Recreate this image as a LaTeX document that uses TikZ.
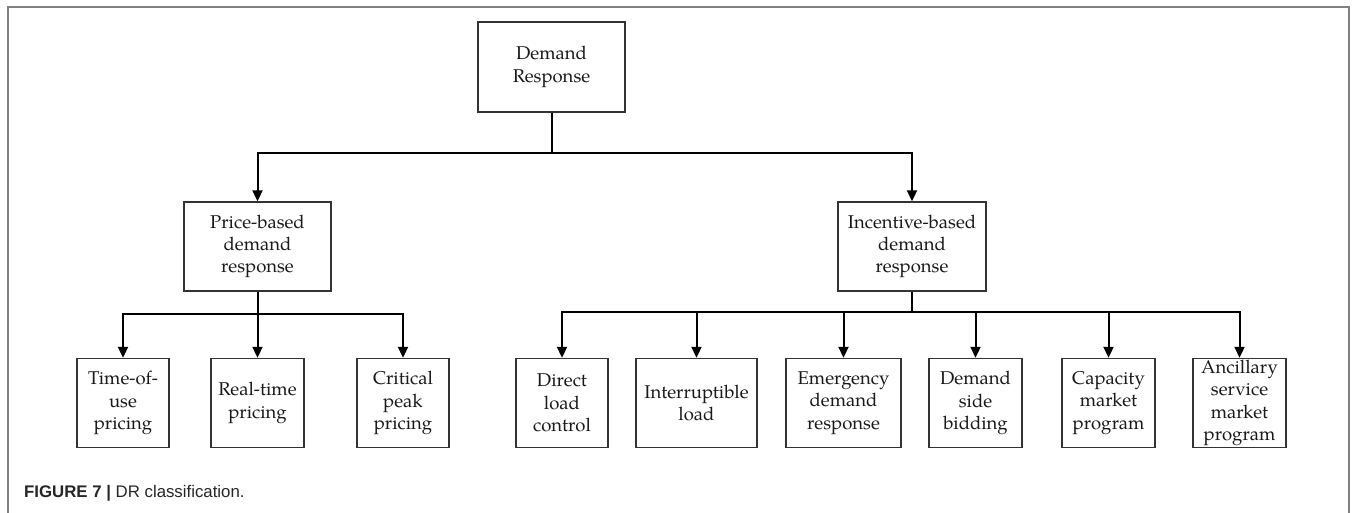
\documentclass[tikz,border=0pt]{standalone}
\usepackage{fontspec}
\setmainfont{TeX Gyre Pagella}
\newfontfamily\capfont{Liberation Sans}
\usetikzlibrary{arrows.meta}
\begin{document}
\begin{tikzpicture}[x=1pt,y=-1pt,
  box/.style={draw=black!80, line width=1.4pt, inner sep=0pt, align=center,
    font=\fontsize{18.5}{22.3}\selectfont, text=black!90, minimum height=89pt},
  conn/.style={line width=2pt, black},
  arr/.style={conn, -{Triangle[width=10pt,length=11pt]}},
  frame/.style={black!50, line width=1.5pt}
]
\useasboundingbox (0,0) rectangle (1356,513);
\draw[frame] (8,513) |- (1349,7) -- (1349,513);

\node[box, minimum width=147pt, minimum height=90pt] (dr) at (551.5,67) {Demand\\Response};
\node[box, minimum width=147pt] (pb) at (257.5,246.5) {Price-based\\demand\\response};
\node[box, minimum width=148pt] (ib) at (912,246.5) {Incentive-based\\demand\\response};

\node[box, minimum width=92pt] (tou) at (123,403) {Time-of-\\use\\pricing};
\node[box, minimum width=93pt] (rtp) at (257.5,403) {Real-time\\pricing};
\node[box, minimum width=92pt] (cpp) at (403,403) {Critical\\peak\\pricing};
\node[box, minimum width=92pt] (dlc) at (562,403) {Direct\\load\\control};
\node[box, minimum width=121pt] (il) at (696.5,403) {Interruptible\\load};
\node[box, minimum width=115pt] (edr) at (843.5,403) {Emergency\\demand\\response};
\node[box, minimum width=93pt] (dsb) at (975.5,403) {Demand\\side\\bidding};
\node[box, minimum width=93pt] (cmp) at (1108.5,403) {Capacity\\market\\program};
\node[box, minimum width=93pt] (asm) at (1239.5,403) {Ancillary\\service\\market\\program};

\draw[conn] (dr.south) -- ++(0,40) coordinate (j1);
\draw[arr] (j1) -| (pb.north);
\draw[arr] (j1) -| (ib.north);

\draw[conn] (pb.south) -- ++(0,22) coordinate (j2);
\draw[arr] (j2) -| (tou.north);
\draw[arr] (j2) -- (rtp.north);
\draw[arr] (j2) -| (cpp.north);

\draw[conn] (ib.south) -- ++(0,20) coordinate (j3);
\foreach \t in {dlc,il,edr,dsb,cmp,asm}
  \draw[arr] (j3) -| (\t.north);

\node[anchor=base west, inner sep=0pt, font=\capfont\fontsize{16.8}{20}\selectfont, text=black!85] (cap) at (24,497) {\textbf{FIGURE 7 |} DR classification.};
\end{tikzpicture}
\end{document}
